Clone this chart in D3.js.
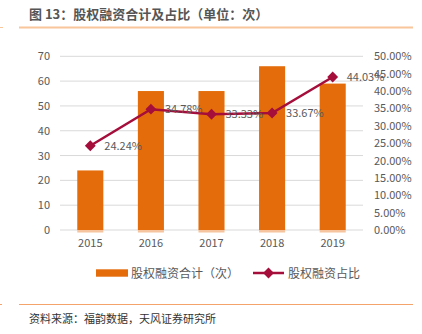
<!DOCTYPE html>
<html><head><meta charset="utf-8">
<script src="https://cdn.jsdelivr.net/npm/d3@7"></script>
<style>
html,body{margin:0;padding:0;background:#fff;}
text{font-family:"Noto Sans CJK SC","Liberation Sans",sans-serif;}
</style></head>
<body><svg id="c" width="422" height="334"></svg>
<script>
const categories = ["2015","2016","2017","2018","2019"];
const counts = [24, 56, 56, 66, 59];
const shares = [24.24, 34.78, 33.33, 33.67, 44.03];
const leftTicks = [0,10,20,30,40,50,60,70];
const rightTicks = [0,5,10,15,20,25,30,35,40,45,50];
const title = "图 13：股权融资合计及占比（单位：次）";
const source = "资料来源：福韵数据，天风证券研究所";
const legendLabels = ["股权融资合计（次）","股权融资占比"];

const svg = d3.select("#c");
const barColor = "#E46C0A", lineColor = "#A50D3B", textColor = "#595959";
const L = 60, R = 363, T = 56.3, B = 230;

svg.append("line").attr("x1",19).attr("x2",413).attr("y1",27.5).attr("y2",27.5).attr("stroke","#F9C59A").attr("stroke-width",2);
svg.append("line").attr("x1",0).attr("x2",3).attr("y1",27.5).attr("y2",27.5).attr("stroke","#F9C59A").attr("stroke-width",1);
svg.append("text").attr("x",29).attr("y",19).attr("font-size",13).attr("font-weight","bold").attr("fill","#555").text(title);

svg.append("line").attr("x1",19).attr("x2",413).attr("y1",304.5).attr("y2",304.5).attr("stroke","#F4A36A").attr("stroke-width",1.2);
svg.append("line").attr("x1",0).attr("x2",2).attr("y1",304.5).attr("y2",304.5).attr("stroke","#F4A36A").attr("stroke-width",1);
svg.append("text").attr("x",29).attr("y",323).attr("font-size",11).attr("fill","#333").text(source);

const x = d3.scaleBand().domain(categories).range([L,R]).paddingInner(0.57).paddingOuter(0.285);
const yL = d3.scaleLinear().domain([0,70]).range([B,T]);
const yR = d3.scaleLinear().domain([0,50]).range([B,T]);

// grid
svg.append("g").selectAll("line").data(leftTicks).join("line")
  .attr("x1",L).attr("x2",R).attr("y1",d=>yL(d)).attr("y2",d=>yL(d))
  .attr("stroke","#D9D9D9").attr("stroke-width",1);

// left axis
const gl = svg.append("g").attr("transform",`translate(${L},0)`)
  .call(d3.axisLeft(yL).tickValues(leftTicks).tickSize(0).tickPadding(10));
gl.select(".domain").remove();
gl.selectAll("text").attr("font-size",11).attr("fill",textColor).attr("font-family","Liberation Sans, sans-serif");

// right axis
const gr = svg.append("g").attr("transform",`translate(${R},0)`)
  .call(d3.axisRight(yR).tickValues(rightTicks).tickSize(0).tickPadding(11).tickFormat(d=>d.toFixed(2)+"%"));
gr.select(".domain").remove();
gr.selectAll("text").attr("font-size",11).attr("fill",textColor).attr("font-family","Liberation Sans, sans-serif");

// bars
svg.append("g").selectAll("rect").data(counts).join("rect")
  .attr("x",(d,i)=>x(categories[i])).attr("width",x.bandwidth())
  .attr("y",d=>yL(d)).attr("height",d=>yL(0)-yL(d))
  .attr("fill",barColor);
svg.append("g").selectAll("rect").data(counts).join("rect")
  .attr("x",(d,i)=>x(categories[i])).attr("width",x.bandwidth())
  .attr("y",yL(0)).attr("height",2.5).attr("fill","#F6C49E");

// x axis
const gx = svg.append("g").attr("transform",`translate(0,${B})`)
  .call(d3.axisBottom(x).tickSize(0).tickPadding(9));
gx.select(".domain").remove();
gx.selectAll("text").attr("font-size",11).attr("fill",textColor).attr("font-family","Liberation Sans, sans-serif");

// line
const cx = (i)=>x(categories[i])+x.bandwidth()/2;
const line = d3.line().x((d,i)=>cx(i)).y(d=>yR(d));
svg.append("path").datum(shares).attr("d",line).attr("fill","none").attr("stroke",lineColor).attr("stroke-width",2.5);
const diamond = d3.symbol().type(d3.symbolDiamond2).size(75);
svg.append("g").selectAll("path").data(shares).join("path")
  .attr("d",diamond).attr("transform",(d,i)=>`translate(${cx(i)},${yR(d)})`).attr("fill",lineColor);
svg.append("g").selectAll("text").data(shares).join("text")
  .attr("x",(d,i)=>cx(i)+14).attr("y",d=>yR(d)+4)
  .attr("font-size",11).attr("fill",textColor).attr("font-family","Liberation Sans, sans-serif")
  .text(d=>d.toFixed(2)+"%");

// legend
const ly = 273;
svg.append("rect").attr("x",96).attr("y",ly-3.7).attr("width",32).attr("height",7.4).attr("fill",barColor);
svg.append("text").attr("x",131).attr("y",ly+4.5).attr("font-size",12).attr("fill",textColor).text(legendLabels[0]);
svg.append("line").attr("x1",253).attr("x2",284).attr("y1",ly).attr("y2",ly).attr("stroke",lineColor).attr("stroke-width",2.5);
svg.append("path").attr("d",diamond).attr("transform",`translate(268.5,${ly})`).attr("fill",lineColor);
svg.append("text").attr("x",288).attr("y",ly+4.5).attr("font-size",12).attr("fill",textColor).text(legendLabels[1]);
</script></body></html>
